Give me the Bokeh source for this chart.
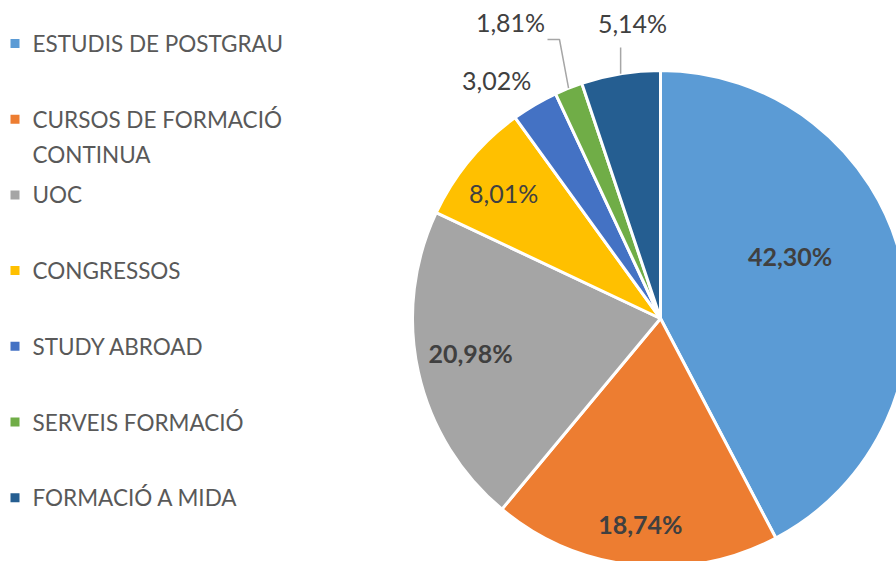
import math
from bokeh.plotting import figure
from bokeh.models import Range1d
from bokeh.core.properties import value
from bokeh.embed import file_html
from bokeh.resources import INLINE

categories = ["ESTUDIS DE POSTGRAU", "CURSOS DE FORMACIÓ\nCONTINUA", "UOC", "CONGRESSOS",
              "STUDY ABROAD", "SERVEIS FORMACIÓ", "FORMACIÓ A MIDA"]
shares = [42.30, 18.74, 20.98, 8.01, 3.02, 1.81, 5.14]
share_labels = ["42,30%", "18,74%", "20,98%", "8,01%", "3,02%", "1,81%", "5,14%"]
colors = ["#5B9BD5", "#ED7D31", "#A5A5A5", "#FFC000", "#4472C4", "#70AD47", "#255E91"]

W, H = 896, 561
p = figure(width=W, height=H, output_backend="svg", toolbar_location=None,
           x_range=Range1d(0, W), y_range=Range1d(0, H), min_border=0)
p.axis.visible = False
p.grid.visible = False
p.outline_line_color = None
p.background_fill_color = "white"
p.border_fill_color = "white"


def sx(x):  # screen px -> data
    return x


def sy(y):
    return H - y


cx, cy, R = sx(660), sy(318), 248
total = sum(shares)
starts, ends, mids = [], [], []
cum = 0.0
for v in shares:
    a0 = math.pi / 2 - 2 * math.pi * cum / total
    cum += v
    a1 = math.pi / 2 - 2 * math.pi * cum / total
    starts.append(a0)
    ends.append(a1)
    mids.append((a0 + a1) / 2)

p.wedge(x=[cx] * len(shares), y=[cy] * len(shares), radius=R, start_angle=starts,
        end_angle=ends, direction="clock", fill_color=colors, line_color="white",
        line_width=3)

# label placement: (radius, angle nudge in degrees, bold)
label_place = [(144, 12.0, True), (206, 0.4, True), (193, -2.1, True), (201, 1.0, False),
               (289, 4.1, False), (332, 5.1, False), (297, -3.85, False)]
for lab, m, (r, dn, bold) in zip(share_labels, mids, label_place):
    a = m + math.radians(dn)
    p.text(x=[cx + r * math.cos(a)], y=[cy + r * math.sin(a)], text=[lab],
           text_font=value("Lato"), text_font_size="25px",
           text_font_style="bold" if bold else "normal", text_color="#404040",
           text_align="center", text_baseline="middle")

# leader lines for small slices
gi, di = 5, 6
ex, ey = cx + R * math.cos(mids[gi]), cy + R * math.sin(mids[gi])
p.line(x=[sx(547), sx(559), ex], y=[sy(39), sy(39), ey], line_color="#A6A6A6", line_width=1.5)
ex2, ey2 = cx + R * math.cos(mids[di]), cy + R * math.sin(mids[di])
p.line(x=[ex2, ex2], y=[sy(47), ey2], line_color="#A6A6A6", line_width=1.5)

# legend
y0, step, line_gap = 43, 75.7, 35
for i, (cat, col) in enumerate(zip(categories, colors)):
    yy = y0 + i * step
    p.scatter(x=[sx(14.5)], y=[sy(yy)], marker="square", size=9, fill_color=col,
              line_color=None)
    for j, line in enumerate(cat.split("\n")):
        p.text(x=[sx(32)], y=[sy(yy + j * line_gap)], text=[line], text_font=value("Lato"),
               text_font_size="22.5px", text_color="#595959", text_align="left",
               text_baseline="middle")

open("out.html", "w").write(file_html(p, INLINE))
